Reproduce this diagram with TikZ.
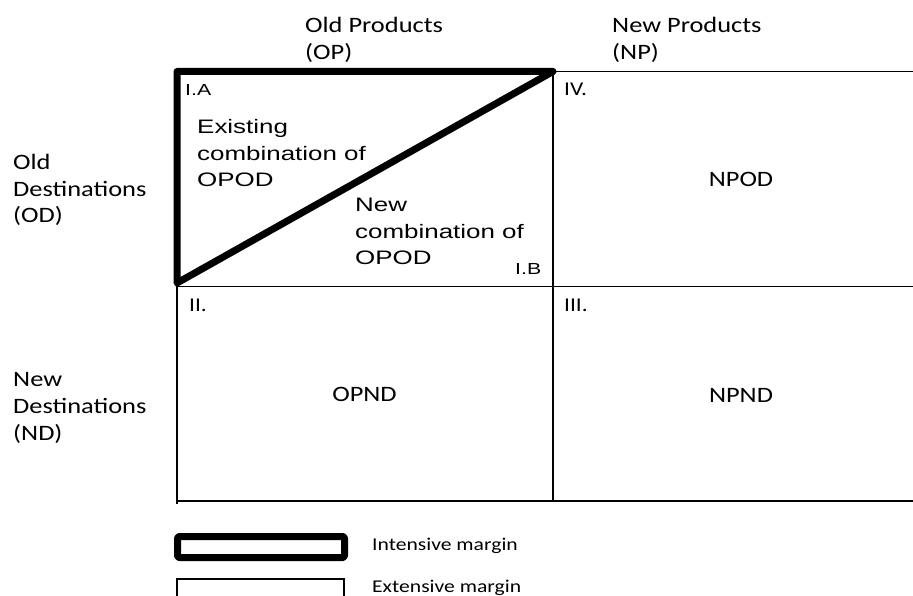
\documentclass[tikz,border=0pt]{standalone}
\usepackage{fontspec}
\newfontfamily\calfont[FakeStretch=1.2]{Carlito}
\newfontfamily\arifont[FakeStretch=1.33]{Liberation Sans}
\begin{document}
\begin{tikzpicture}[x=1pt,y=-1pt,
  gridline/.style={line width=1.3pt, black},
  intensive/.style={line width=7pt, black, line join=round, line cap=round},
  lbl/.style={inner sep=0pt, anchor=base west, align=left},
  calbig/.style={lbl, font=\calfont\fontsize{22}{27}\selectfont},
  calmid/.style={lbl, font=\calfont\fontsize{19.5}{24}\selectfont},
  calsmall/.style={lbl, font=\calfont\fontsize{18}{22}\selectfont},
  arbig/.style={lbl, font=\arifont\fontsize{19.5}{26.5}\selectfont},
  arsmall/.style={lbl, font=\arifont\fontsize{16}{20}\selectfont}]
\useasboundingbox (0,0) rectangle (913,596);
% grid coordinates
\coordinate (a1) at (177,71.5);
\coordinate (a2) at (553,71.5);
\coordinate (a3) at (913,71.5);
\coordinate (b0) at (177,283);
\coordinate (b1) at (177,286.5);
\coordinate (b2) at (553,286.5);
\coordinate (b3) at (913,286.5);
\coordinate (c1) at (177,501);
\coordinate (c1x) at (177,503.5);
\coordinate (c2) at (553,501);
\coordinate (c3) at (913,501);
% thin grid
\draw[gridline] (a2) -- (a3);
\draw[gridline] (a2) -- (c2);
\draw[gridline] (b1) -- (b3);
\draw[gridline] (c1) -- (c3);
\draw[gridline] (b0) -- (c1x);
% intensive margin triangle
\draw[intensive] (b0) -- (a1) -- (a2) -- cycle;
% headers (base = baseline of last line)
\node[calbig] (op) at (305,60) {Old Products\\(OP)};
\node[calbig] (np) at (612,60) {New Products\\(NP)};
\node[calbig] (od) at (13,223) {Old\\Destinations\\(OD)};
\node[calbig] (nd) at (13,440) {New\\Destinations\\(ND)};
% cell labels
\node[arsmall] (ia) at (185,96) {I.A};
\node[arsmall] (ib) at (515,274) {I.B};
\node[calmid] (iv) at (564,96) {IV.};
\node[calmid] (ii) at (189,311) {II.};
\node[calmid] (iii) at (564,311) {III.};
\node[arbig] (ex) at (197,187) {Existing\\combination of\\OPOD};
\node[arbig] (nw) at (355,265) {New\\combination of\\OPOD};
\node[calbig, anchor=base] (npod) at (741,187) {NPOD};
\node[calbig, anchor=base] (opnd) at (364.5,401) {OPND};
\node[calbig, anchor=base] (npnd) at (741,402) {NPND};
% legend
\coordinate (l1) at (177.5,536.5);
\coordinate (l2) at (344.5,557.5);
\coordinate (l3) at (177,579);
\coordinate (l4) at (344,620);
\draw[intensive, rounded corners=2pt] (l1) rectangle (l2);
\draw[gridline] (l3) rectangle (l4);
\node[calsmall] (int) at (372,550) {Intensive margin};
\node[calsmall] (ext) at (372,592) {Extensive margin};
\end{tikzpicture}
\end{document}
